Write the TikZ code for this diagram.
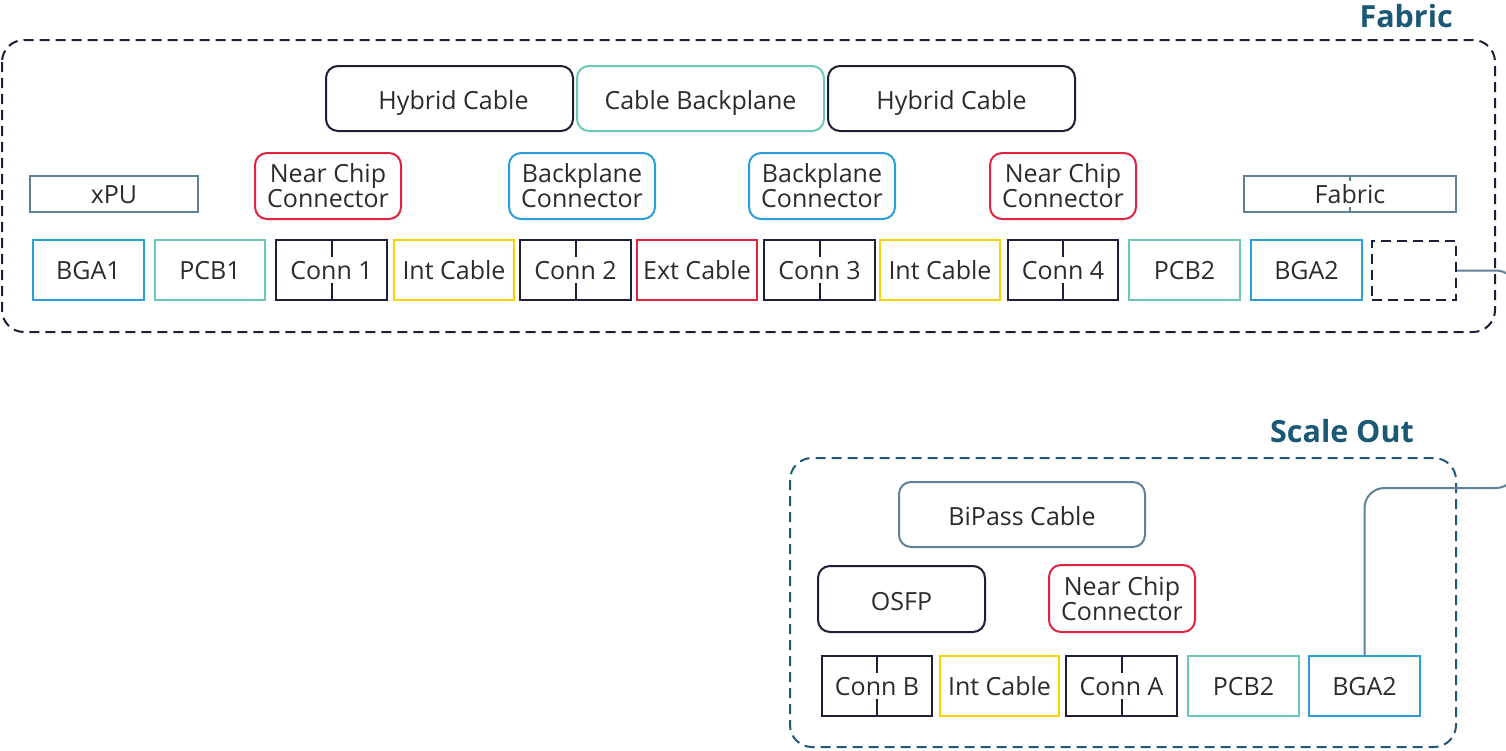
\documentclass[tikz,border=0pt]{standalone}
\usepackage{fontspec}
\setmainfont{Open Sans}
\usetikzlibrary{calc}
\definecolor{navy}{HTML}{1E1E36}
\definecolor{tealc}{HTML}{6CC9B7}
\definecolor{redc}{HTML}{E3223F}
\definecolor{bluec}{HTML}{2A9FDB}
\definecolor{yellowc}{HTML}{F7D600}
\definecolor{greyblue}{HTML}{5E8398}
\definecolor{titlec}{HTML}{1B5876}
\definecolor{scaleout}{HTML}{1F5A75}
\definecolor{txt}{HTML}{2B2B2B}
\begin{document}
\begin{tikzpicture}[x=1pt,y=-1pt,
  every node/.style={font=\fontsize{25}{25}\selectfont, text=txt, inner sep=0pt, align=center},
  oneline/.style={text height=18pt, text depth=0pt},
  lowline/.style={text height=22pt, text depth=0pt},
  bx/.style={draw=#1, line width=2pt, minimum height=60pt, oneline},
  rbx/.style={draw=#1, line width=2pt, rounded corners=12pt},
  conntick/.style={draw=navy, line width=2pt},
  titletext/.style={font=\fontsize{30.5}{30}\selectfont\bfseries, text=titlec, anchor=east},
  outer/.style={line width=2pt, dashed, dash pattern=on 10pt off 6pt, rounded corners=22pt},
  link/.style={draw=greyblue, line width=2pt, rounded corners=20pt}
]
\useasboundingbox (0,0) rectangle (1506,750);

% ---------- Fabric ----------
\node[titletext] (fabtitle) at (1453,16) {Fabric};
\draw[outer, draw=navy] (2,40) rectangle (1495,332);

\node[rbx=navy, lowline, minimum width=247pt, minimum height=65pt] (hyb1) at (449.5,98.5) {\hspace*{8pt}Hybrid Cable};
\node[rbx=tealc, lowline, minimum width=247pt, minimum height=65pt] (cbp) at (700.5,98.5) {Cable Backplane};
\node[rbx=navy, lowline, minimum width=247pt, minimum height=65pt] (hyb2) at (951.5,98.5) {Hybrid Cable};

\node[rbx=redc, minimum width=146pt, minimum height=66pt] (ncc1) at (328,186) {Near Chip\\Connector};
\node[rbx=bluec, minimum width=146pt, minimum height=66pt] (bpc1) at (582,186) {Backplane\\Connector};
\node[rbx=bluec, minimum width=146pt, minimum height=66pt] (bpc2) at (822,186) {Backplane\\Connector};
\node[rbx=redc, minimum width=146pt, minimum height=66pt] (ncc2) at (1063,186) {Near Chip\\Connector};

\node[draw=greyblue, line width=2pt, oneline, minimum width=168pt, minimum height=36pt] (xpu) at (114,194) {xPU};
\node[draw=greyblue, line width=2pt, oneline, minimum width=212pt, minimum height=36pt] (fabsm) at (1350,194) {Fabric};
\draw[draw=greyblue, line width=2pt] (fabsm.north) -- ++(0,6) (fabsm.south) -- ++(0,-6);

\node[bx=bluec, minimum width=111pt] (bga1) at (88.5,270) {BGA1};
\node[bx=tealc, minimum width=110pt] (pcb1) at (210,270) {PCB1};
\node[bx=navy, minimum width=111pt] (conn1) at (331.5,270) {Conn 1};
\node[bx=yellowc, minimum width=120pt] (int1) at (454,270) {Int Cable};
\node[bx=navy, minimum width=111pt] (conn2) at (575.5,270) {Conn 2};
\node[bx=redc, minimum width=120pt] (ext) at (697,270) {Ext Cable};
\node[bx=navy, minimum width=111pt] (conn3) at (819.5,270) {Conn 3};
\node[bx=yellowc, minimum width=120pt] (int2) at (940,270) {Int Cable};
\node[bx=navy, minimum width=110pt] (conn4) at (1063,270) {Conn 4};
\node[bx=tealc, minimum width=111pt] (pcb2) at (1184.5,270) {PCB2};
\node[bx=bluec, minimum width=111pt] (bga2) at (1306.5,270) {BGA2};
\node[draw=navy, line width=2pt, dashed, dash pattern=on 10pt off 6pt, minimum width=84pt, minimum height=59pt] (dbox) at (1414,270.5) {};

% ---------- Scale Out ----------
\node[titletext] (sotitle) at (1414,431) {Scale Out};
\draw[outer, draw=scaleout] (790,458) rectangle (1456,747);

\node[rbx=greyblue, lowline, minimum width=246pt, minimum height=65pt] (bipass) at (1022,514.5) {BiPass Cable};
\node[rbx=navy, lowline, minimum width=167pt, minimum height=66pt] (osfp) at (901.5,599) {OSFP};
\node[rbx=redc, minimum width=146pt, minimum height=67pt] (ncc3) at (1122,598.5) {Near Chip\\Connector};

\node[bx=navy, minimum width=110pt] (connb) at (877,686) {Conn B};
\node[bx=yellowc, minimum width=119pt] (intc) at (999.5,686) {Int Cable};
\node[bx=navy, minimum width=111pt] (conna) at (1121.5,686) {Conn A};
\node[bx=tealc, minimum width=111pt] (pcb2s) at (1243.5,686) {PCB2};
\node[bx=bluec, minimum width=111pt] (bga2s) at (1364.5,686) {BGA2};

% connector ticks
\foreach \n in {conn1,conn2,conn3,conn4,connb,conna}
  \draw[conntick] (\n.north) -- ++(0,18) (\n.south) -- ++(0,-18);

% ---------- link ----------
\coordinate (c1) at (1516,270.5);
\coordinate (c2) at (1516,488);
\draw[link] (dbox.east) -- (c1) -- (c2) -| (bga2s.north);
\end{tikzpicture}
\end{document}
